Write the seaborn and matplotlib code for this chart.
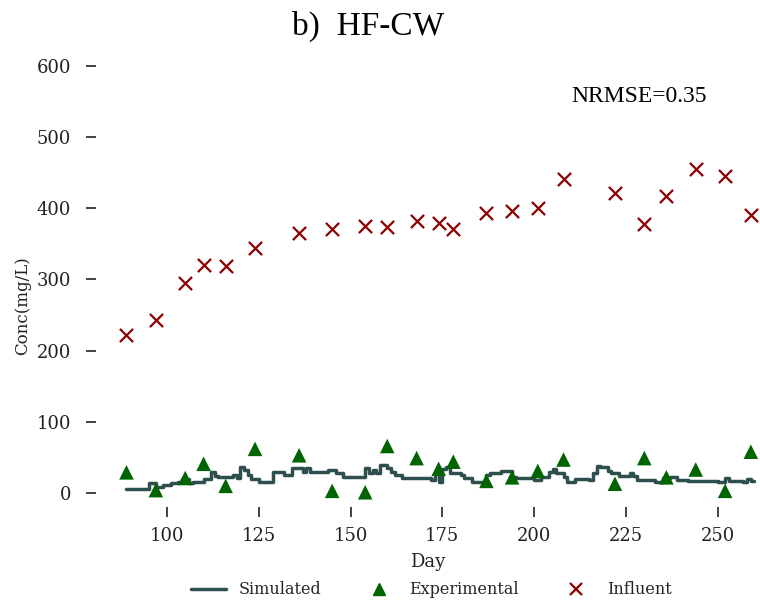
import matplotlib
matplotlib.use("Agg")
import matplotlib.pyplot as plt
import seaborn as sns
import pandas as pd
from matplotlib.lines import Line2D

# ---- data ----
sim_day = [89, 94, 95, 97, 99, 101, 103, 104, 106, 107, 110, 112, 113, 114, 118, 119,
           120, 121, 122, 123, 125, 129, 132, 134, 137, 138, 139, 144, 146, 148, 154,
           155, 156, 157, 158, 160, 161, 162, 164, 172, 173, 174, 175, 176, 177, 180,
           181, 183, 187, 188, 191, 194, 195, 200, 202, 204, 205, 206, 208, 209, 211,
           215, 216, 217, 218, 220, 221, 223, 226, 227, 228, 233, 235, 237, 239, 242,
           250, 252, 253, 257, 258, 259, 260]
sim_val = [6, 6, 14, 9, 11, 14, 16, 20, 14, 15, 19, 29, 24, 22, 25, 21,
           37, 32, 25, 20, 15, 29, 25, 35, 29, 35, 30, 32, 28, 23, 35,
           28, 32, 28, 39, 35, 30, 25, 21, 18, 28, 16, 34, 37, 28, 25,
           21, 15, 25, 28, 31, 23, 21, 18, 23, 30, 34, 28, 23, 15, 20,
           18, 28, 38, 36, 31, 28, 24, 28, 24, 18, 16, 21, 23, 18, 17,
           15, 21, 17, 15, 20, 17, 17]

exp_day = [89, 97, 105, 110, 116, 124, 136, 145, 154, 160, 168, 174, 178, 187, 194,
           201, 208, 222, 230, 236, 244, 252, 259]
exp_val = [29, 4, 21, 41, 10, 62, 53, 3, 1, 66, 49, 34, 44, 17, 22, 31, 47, 13, 49,
           22, 33, 3, 58]

inf_day = [89, 97, 105, 110, 116, 124, 136, 145, 154, 160, 168, 174, 178, 187, 194,
           201, 208, 222, 230, 236, 244, 252, 259]
inf_val = [222, 243, 295, 320, 319, 344, 365, 371, 375, 374, 382, 379, 371, 393, 396,
           400, 441, 421, 378, 418, 455, 445, 390]

y_ticks = [0, 100, 200, 300, 400, 500, 600]
x_ticks = [100, 125, 150, 175, 200, 225, 250]

sns.set_theme(style="ticks")
plt.rcParams['font.family'] = ['DejaVu Serif']

sim = pd.DataFrame({"Day": sim_day, "Conc": sim_val})
exp = pd.DataFrame({"Day": exp_day, "Conc": exp_val})
inf = pd.DataFrame({"Day": inf_day, "Conc": inf_val})

fig = plt.figure(figsize=(7.6, 6.04), dpi=100)
ax = fig.add_axes([96 / 760, 1 - 507 / 604, (760 - 96) / 760, (507 - 66) / 604])

sns.lineplot(data=sim, x="Day", y="Conc", ax=ax, color="#2F4F4F", lw=2.5,
             drawstyle="steps-post", estimator=None, sort=True)
sns.scatterplot(data=exp, x="Day", y="Conc", ax=ax, marker="^", color="darkgreen",
                s=110, edgecolor="none", zorder=3)
sns.scatterplot(data=inf, x="Day", y="Conc", ax=ax, marker="x", color="darkred",
                s=90, linewidth=1.6, zorder=3)

ax.set_xlim(80.7, 261.5)
ax.set_ylim(-19.7, 600)
ax.set_xticks(x_ticks)
ax.set_yticks(y_ticks)
ax.tick_params(axis="both", labelsize=13, length=7, width=1.2, color="#222222",
               labelcolor="#222222")
ax.tick_params(axis="y", pad=11)
ax.tick_params(axis="x", pad=7.5)
sns.despine(ax=ax, left=True, bottom=True)
ax.set_xlabel("Day", fontsize=13, labelpad=6, color="#222222")
ax.set_ylabel("Conc(mg/L)", fontsize=12, color="#222222")
ax.yaxis.set_label_coords((31 - 96) / 664, (507 - 306) / 441)

fig.text(368 / 760, 1 - 26 / 604, "b)  HF-CW", ha="center", va="center",
         fontsize=24, family="Liberation Serif", color="black")
ax.text(571 / 760, 1 - 96 / 604, "NRMSE=0.35", transform=fig.transFigure,
        ha="left", va="center", fontsize=17, family="Liberation Serif", color="black")

handles = [
    Line2D([], [], color="#2F4F4F", lw=2.5),
    Line2D([], [], color="darkgreen", marker="^", ls="none", markersize=9),
    Line2D([], [], color="darkred", marker="x", ls="none", markersize=9, mew=1.6),
]
fig.legend(handles, ["Simulated", "Experimental", "Influent"], loc="center",
           bbox_to_anchor=(431 / 760, 1 - 590 / 604), ncol=3, frameon=False,
           fontsize=11.5, handlelength=2.2, columnspacing=2.5)

fig.savefig("out.png", dpi=100)
